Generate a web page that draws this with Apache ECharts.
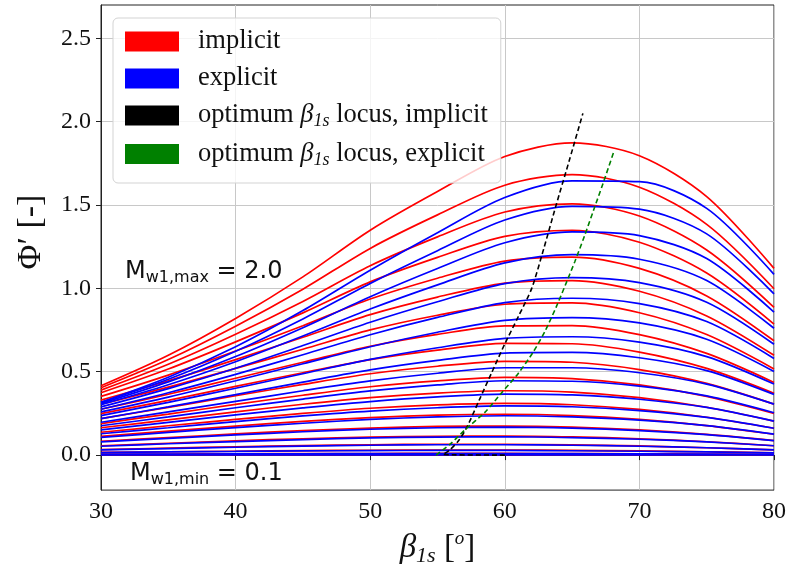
<!DOCTYPE html>
<html>
<head>
<meta charset="utf-8">
<script src="https://cdn.jsdelivr.net/npm/echarts@6/dist/echarts.min.js"></script>
<style>
  html, body { margin: 0; padding: 0; background: #fff; }
  #chart { width: 789px; height: 572px; }
</style>
</head>
<body>
<div id="chart"></div>
<script>
// blade angle beta_1s [deg]
var beta = [30, 35, 40, 45, 50, 55, 60, 65, 70, 75, 80];

// relative Mach numbers, one curve per value (top curve first)
var machNumbers = [2.0, 1.9, 1.8, 1.7, 1.6, 1.5, 1.4, 1.3, 1.2, 1.1, 1.0, 0.9, 0.8, 0.7, 0.6, 0.5, 0.4, 0.3, 0.2, 0.1];

// Phi', implicit solution (red)
var phiImplicit = [
  [0.416, 0.599, 0.820, 1.069, 1.349, 1.581, 1.791, 1.873, 1.796, 1.551, 1.120],
  [0.404, 0.573, 0.773, 0.995, 1.240, 1.441, 1.619, 1.683, 1.607, 1.384, 0.998],
  [0.390, 0.545, 0.725, 0.922, 1.136, 1.309, 1.458, 1.507, 1.434, 1.230, 0.886],
  [0.374, 0.516, 0.679, 0.853, 1.039, 1.186, 1.312, 1.348, 1.277, 1.092, 0.786],
  [0.352, 0.480, 0.624, 0.776, 0.936, 1.061, 1.164, 1.188, 1.120, 0.955, 0.686],
  [0.330, 0.446, 0.573, 0.707, 0.843, 0.948, 1.032, 1.047, 0.983, 0.835, 0.599],
  [0.305, 0.408, 0.520, 0.635, 0.751, 0.839, 0.905, 0.913, 0.854, 0.723, 0.517],
  [0.275, 0.365, 0.461, 0.557, 0.653, 0.724, 0.775, 0.777, 0.723, 0.610, 0.436],
  [0.249, 0.328, 0.412, 0.494, 0.573, 0.630, 0.670, 0.668, 0.618, 0.520, 0.371],
  [0.219, 0.286, 0.356, 0.424, 0.488, 0.533, 0.562, 0.557, 0.513, 0.430, 0.306],
  [0.189, 0.246, 0.304, 0.359, 0.410, 0.445, 0.466, 0.459, 0.421, 0.352, 0.250],
  [0.164, 0.211, 0.259, 0.305, 0.345, 0.372, 0.386, 0.378, 0.345, 0.287, 0.204],
  [0.137, 0.176, 0.214, 0.250, 0.281, 0.301, 0.310, 0.302, 0.274, 0.227, 0.161],
  [0.112, 0.144, 0.174, 0.202, 0.225, 0.240, 0.245, 0.237, 0.214, 0.177, 0.125],
  [0.083, 0.105, 0.127, 0.147, 0.162, 0.172, 0.174, 0.168, 0.151, 0.124, 0.087],
  [0.056, 0.071, 0.086, 0.098, 0.108, 0.113, 0.114, 0.109, 0.098, 0.080, 0.056],
  [0.033, 0.042, 0.050, 0.057, 0.062, 0.065, 0.065, 0.061, 0.055, 0.044, 0.031],
  [0.016, 0.020, 0.023, 0.027, 0.029, 0.030, 0.030, 0.028, 0.025, 0.020, 0.014],
  [0.0054, 0.0067, 0.0080, 0.0090, 0.0097, 0.0100, 0.0099, 0.0093, 0.0081, 0.0066, 0.0046],
  [0.0009, 0.0011, 0.0012, 0.0014, 0.0015, 0.0015, 0.0015, 0.0014, 0.0012, 0.0010, 0.0007]
];

// Phi', explicit solution (blue)
var phiExplicit = [
  [0.317, 0.467, 0.650, 0.867, 1.109, 1.334, 1.545, 1.645, 1.640, 1.480, 1.084],
  [0.316, 0.455, 0.623, 0.817, 1.030, 1.226, 1.410, 1.492, 1.475, 1.327, 0.967],
  [0.310, 0.439, 0.591, 0.764, 0.950, 1.119, 1.274, 1.339, 1.317, 1.179, 0.858],
  [0.303, 0.422, 0.560, 0.714, 0.876, 1.021, 1.153, 1.202, 1.175, 1.047, 0.761],
  [0.289, 0.399, 0.521, 0.657, 0.797, 0.920, 1.029, 1.065, 1.035, 0.917, 0.665],
  [0.275, 0.374, 0.484, 0.602, 0.722, 0.826, 0.915, 0.941, 0.909, 0.801, 0.580],
  [0.259, 0.348, 0.446, 0.548, 0.650, 0.737, 0.808, 0.825, 0.793, 0.695, 0.502],
  [0.237, 0.316, 0.401, 0.488, 0.574, 0.644, 0.700, 0.710, 0.678, 0.591, 0.426],
  [0.219, 0.289, 0.363, 0.438, 0.511, 0.568, 0.612, 0.616, 0.584, 0.507, 0.364],
  [0.197, 0.259, 0.322, 0.386, 0.445, 0.491, 0.524, 0.524, 0.494, 0.426, 0.306],
  [0.176, 0.229, 0.284, 0.336, 0.385, 0.421, 0.446, 0.443, 0.414, 0.355, 0.254],
  [0.151, 0.196, 0.241, 0.283, 0.321, 0.349, 0.366, 0.361, 0.335, 0.286, 0.204],
  [0.128, 0.164, 0.201, 0.235, 0.264, 0.284, 0.295, 0.290, 0.267, 0.226, 0.161],
  [0.106, 0.136, 0.165, 0.191, 0.214, 0.229, 0.236, 0.229, 0.210, 0.177, 0.126],
  [0.079, 0.100, 0.121, 0.140, 0.155, 0.164, 0.168, 0.162, 0.147, 0.123, 0.087],
  [0.053, 0.068, 0.081, 0.093, 0.103, 0.108, 0.110, 0.105, 0.095, 0.079, 0.056],
  [0.031, 0.039, 0.047, 0.054, 0.059, 0.062, 0.062, 0.059, 0.053, 0.044, 0.031],
  [0.015, 0.019, 0.022, 0.025, 0.027, 0.028, 0.028, 0.026, 0.023, 0.019, 0.013],
  [0.0048, 0.0060, 0.0072, 0.0081, 0.0087, 0.0090, 0.0089, 0.0084, 0.0073, 0.0059, 0.0041],
  [0.0007, 0.0009, 0.0010, 0.0011, 0.0012, 0.0012, 0.0012, 0.0011, 0.0010, 0.0008, 0.0006]
];

// optimum beta_1s loci
var locusImplicitBeta = [60.0, 55.4, 55.9, 56.6, 57.2, 58.1, 59.0, 60.0, 61.0, 62.0, 62.9, 63.8, 64.8, 65.8];
var locusImplicitPhi  = [0.0, 0.004, 0.03, 0.09, 0.17, 0.33, 0.49, 0.667, 0.83, 1.0, 1.24, 1.496, 1.77, 2.05];
var locusExplicitBeta = [54.9, 56.0, 57.1, 58.5, 59.8, 61.0, 62.1, 63.0, 63.8, 64.5, 65.2, 65.9, 66.6, 67.3, 68.1];
var locusExplicitPhi  = [0.0, 0.07, 0.156, 0.255, 0.377, 0.49, 0.617, 0.745, 0.885, 1.02, 1.16, 1.31, 1.47, 1.63, 1.82];

var yTicks = [0, 0.5, 1.0, 1.5, 2.0, 2.5];

var serif = 'Liberation Serif';
var legendNames = {
  implicit: '{gap|}{t|implicit}',
  explicit: '{gap|}{t|explicit}',
  locusImp: '{gap|}{t|optimum }{g|β}{s|1s}{t| locus, implicit}',
  locusExp: '{gap|}{t|optimum }{g|β}{s|1s}{t| locus, explicit}'
};

function pairs(xs, ys) {
  return xs.map(function (x, i) { return [x, ys[i]]; });
}

var series = [];
phiImplicit.forEach(function (row) {
  series.push({
    name: 'implicit', type: 'line', data: pairs(beta, row),
    showSymbol: false, smooth: 0.3, color: '#ff0000',
    lineStyle: { color: '#ff0000', width: 1.7 }
  });
});
phiExplicit.forEach(function (row) {
  series.push({
    name: 'explicit', type: 'line', data: pairs(beta, row),
    showSymbol: false, smooth: 0.3, color: '#0000ff',
    lineStyle: { color: '#0000ff', width: 1.7 }
  });
});
series.push({
  name: 'locusImp', type: 'line', data: pairs(locusImplicitBeta, locusImplicitPhi),
  showSymbol: false, smooth: 0.25, color: '#000000', z: 5,
  lineStyle: { color: '#000000', width: 1.6, type: [5, 3] }
});
series.push({
  name: 'locusExp', type: 'line', data: pairs(locusExplicitBeta, locusExplicitPhi),
  showSymbol: false, smooth: 0.25, color: '#008000', z: 5,
  lineStyle: { color: '#008000', width: 1.6, type: [5, 3] }
});

var chart = echarts.init(document.getElementById('chart'), null, { renderer: 'canvas' });

chart.setOption({
  animation: false,
  backgroundColor: '#ffffff',
  grid: {
    left: 101, right: 13, top: 5, bottom: 81,
    show: true, borderColor: '#222', borderWidth: 1, backgroundColor: 'transparent'
  },
  legend: {
    data: ['implicit', 'explicit', 'locusImp', 'locusExp'],
    orient: 'vertical', left: 113, top: 18,
    icon: 'rect', itemWidth: 54, itemHeight: 20, itemGap: 10,
    padding: [10, 13, 14, 12],
    backgroundColor: 'rgba(255,255,255,0.8)',
    borderColor: '#d3d3d3', borderWidth: 1, borderRadius: 5,
    selectedMode: false,
    itemStyle: { borderWidth: 0 },
    lineStyle: { width: 0 },
    formatter: function (name) { return legendNames[name]; },
    textStyle: {
      rich: {
        gap: { width: 14 },
        t: { fontFamily: serif, fontSize: 26.5, color: '#111', lineHeight: 30 },
        g: { fontFamily: serif, fontStyle: 'italic', fontSize: 26.5, color: '#111', lineHeight: 30 },
        s: { fontFamily: serif, fontStyle: 'italic', fontSize: 18, color: '#111', lineHeight: 18, verticalAlign: 'bottom' }
      }
    }
  },
  xAxis: {
    type: 'value', min: 30, max: 80, interval: 10,
    name: '{b|β}{s|1s}{n| [}{p|o}{n|]}',
    nameLocation: 'middle', nameGap: 36,
    nameTextStyle: {
      rich: {
        b: { fontFamily: serif, fontStyle: 'italic', fontSize: 33, color: '#111', lineHeight: 38 },
        s: { fontFamily: serif, fontStyle: 'italic', fontSize: 22, color: '#111', lineHeight: 21, verticalAlign: 'bottom' },
        n: { fontFamily: serif, fontSize: 33, color: '#111', lineHeight: 38 },
        p: { fontFamily: serif, fontStyle: 'italic', fontSize: 19, color: '#111', lineHeight: 19, verticalAlign: 'top' }
      }
    },
    axisLine: { show: true, lineStyle: { color: '#222', width: 1 } },
    axisTick: { show: true, inside: false, length: 5, lineStyle: { color: '#222' } },
    axisLabel: { fontFamily: serif, fontSize: 24, color: '#111', margin: 10 },
    splitLine: { show: true, lineStyle: { color: '#c8c8c8', width: 1 } }
  },
  yAxis: {
    type: 'value', min: -0.21, max: 2.70,
    axisLine: { show: true, lineStyle: { color: '#222', width: 1 } },
    axisTick: { show: true, inside: false, length: 5, customValues: yTicks, lineStyle: { color: '#222' } },
    axisLabel: {
      fontFamily: serif, fontSize: 24, color: '#111', margin: 10,
      customValues: yTicks,
      formatter: function (v) { return v.toFixed(1); }
    },
    splitLine: { show: true, lineStyle: { color: '#c8c8c8', width: 1 } }
  },
  graphic: [
    {
      // y-axis title
      type: 'text', x: 31, y: 232, rotation: Math.PI / 2, z: 100,
      style: {
        text: 'Φ′ [-]', fontFamily: serif, fontSize: 34, fill: '#111',
        align: 'center', verticalAlign: 'middle'
      }
    },
    {
      type: 'text', left: 125, top: 260, z: 100,
      style: {
        text: '{m|M}{s|w1,max}{m| = 2.0}',
        rich: {
          m: { fontFamily: 'DejaVu Sans', fontSize: 24, fill: '#111', lineHeight: 28 },
          s: { fontFamily: 'DejaVu Sans', fontSize: 16, fill: '#111', lineHeight: 16, verticalAlign: 'bottom' }
        }
      }
    },
    {
      type: 'text', left: 130, top: 462, z: 100,
      style: {
        text: '{m|M}{s|w1,min}{m| = 0.1}',
        rich: {
          m: { fontFamily: 'DejaVu Sans', fontSize: 24, fill: '#111', lineHeight: 28 },
          s: { fontFamily: 'DejaVu Sans', fontSize: 16, fill: '#111', lineHeight: 16, verticalAlign: 'bottom' }
        }
      }
    }
  ],
  series: series
});
</script>
</body>
</html>
